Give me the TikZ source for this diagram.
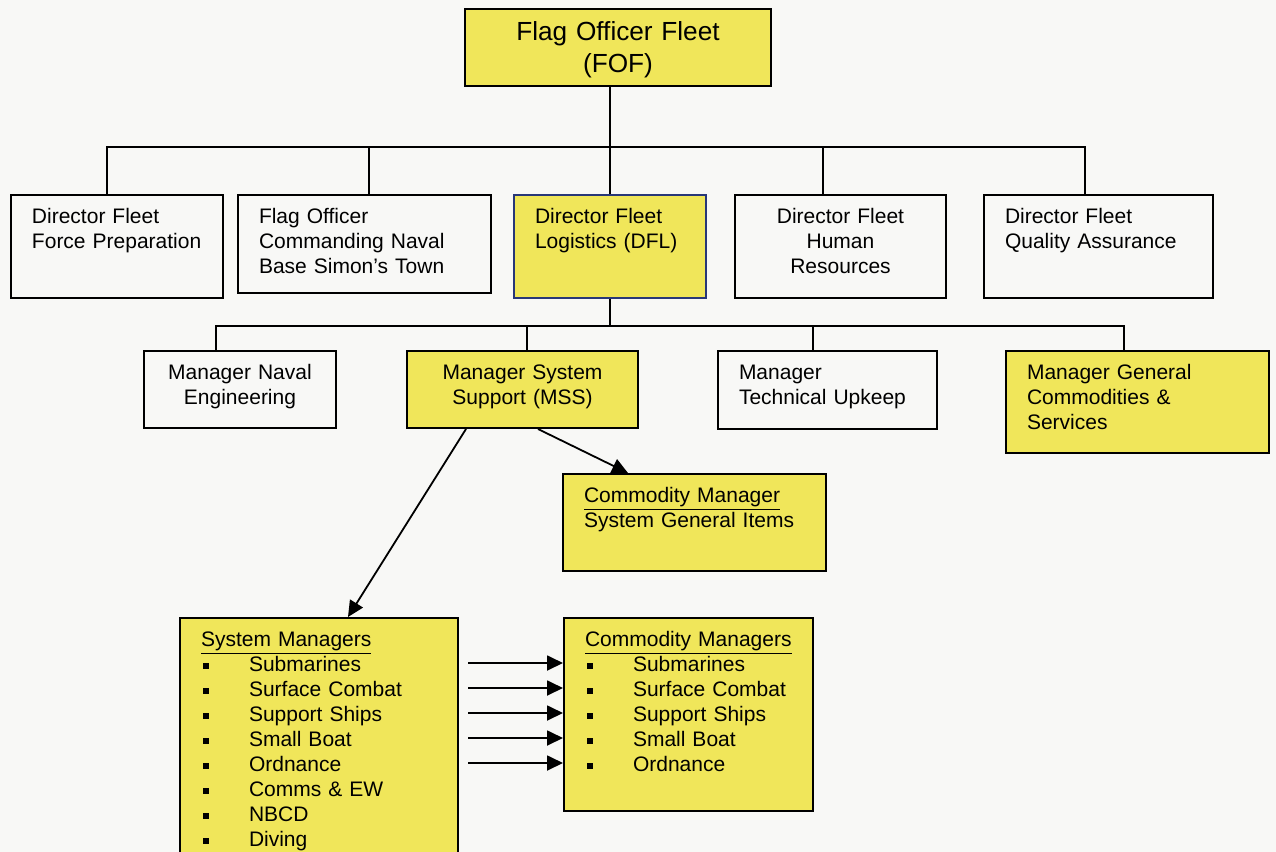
\documentclass[tikz,border=0pt]{standalone}
\usepackage{fontspec}
\setmainfont{Liberation Sans}
\usetikzlibrary{arrows.meta,calc}

\definecolor{boxyellow}{RGB}{240,230,90}
\definecolor{paper}{RGB}{248,248,246}
\definecolor{dflblue}{RGB}{40,55,120}

% square bullet of the lists
\newcommand{\sq}{\makebox[24pt][l]{\hspace{1pt}\rule[1.5pt]{2.8pt}{2.8pt}}}

\tikzset{
  unit/.style={draw, line width=1pt, anchor=north west, inner xsep=10.5pt, inner ysep=4pt,
    text height=10.25pt, align=left, font=\fontsize{10.5}{12.5}\selectfont},
  hilite/.style={unit, fill=boxyellow},
  link/.style={line width=0.9pt},
  arrow/.style={link, -{Triangle[length=8pt,width=7.5pt]}}
}

\begin{document}
\begin{tikzpicture}[x=0.5pt,y=-0.5pt]
    \useasboundingbox[fill=paper] (0,0) rectangle (1276,852);
    % top
    \node[hilite, text width=132pt, text height=11.9pt, text depth=18.6pt, align=center,
      font=\fontsize{13.1}{16}\selectfont] (fof) at (464,8) {Flag Officer Fleet\\(FOF)};
    % directors
    \node[unit, text width=85pt, text depth=33.25pt] (dffp) at (10,194) {Director Fleet\\Force Preparation};
    \node[unit, text width=105.5pt, text depth=30.75pt] (focnb) at (237,194) {Flag Officer\\Commanding Naval\\Base Simon’s Town};
    \node[hilite, draw=dflblue, text width=75pt, text depth=33.25pt] (dfl) at (513,194) {Director Fleet\\Logistics (DFL)};
    \node[unit, text width=84.5pt, text depth=33.25pt, align=center] (dfhr) at (734,194) {Director Fleet\\Human\\Resources};
    \node[unit, text width=93.5pt, text depth=33.25pt] (dfqa) at (983,194) {Director Fleet\\Quality Assurance};
    % managers
    \node[unit, text width=75pt, text depth=20.25pt, align=center] (mne) at (143,350) {Manager Naval\\Engineering};
    \node[hilite, text width=94.5pt, text depth=20.25pt, align=center] (mss) at (406,350) {Manager System\\Support (MSS)};
    \node[unit, text width=88.5pt, text depth=20.75pt] (mtu) at (717,350) {Manager\\Technical Upkeep};
    \node[hilite, text width=110.5pt, text depth=32.75pt] (mgcs) at (1005,350) {Manager General\\Commodities \&\\Services};
    % under MSS
    \node[hilite, text width=110.5pt, text depth=30.25pt] (cmsgi) at (562,473) {\underline{Commodity Manager}\\System General Items};
    \node[hilite, text width=118pt, text depth=111.75pt] (sm) at (179,617) {\underline{System Managers}\\
      \sq Submarines\\\sq Surface Combat\\\sq Support Ships\\\sq Small Boat\\
      \sq Ordnance\\\sq Comms \& EW\\\sq NBCD\\\sq Diving};
    \node[hilite, text width=103.5pt, text depth=78.25pt] (cms) at (563,617) {\underline{Commodity Managers}\\
      \sq Submarines\\\sq Surface Combat\\\sq Support Ships\\\sq Small Boat\\\sq Ordnance};
    % lines to the directors
    \coordinate (top-l) at (107,147);
    \coordinate (top-r) at (1085,147);
    \coordinate (drop2) at (369,147);
    \coordinate (drop4) at (823,147);
    \draw[link] (fof.south -| dfl.north) -- (dfl.north);
    \draw[link] (top-l |- dffp.north) -- (top-l) -- (top-r) -- (top-r |- dfqa.north);
    \draw[link] (drop2) -- (drop2 |- focnb.north);
    \draw[link] (drop4) -- (drop4 |- dfhr.north);
    % lines to the managers
    \coordinate (mid-l) at (216,326);
    \coordinate (mid-r) at (1124,326);
    \coordinate (drop-mss) at (527,326);
    \coordinate (drop-mtu) at (813,326);
    \draw[link] (dfl.south) -- (dfl.south |- mid-l);
    \draw[link] (mid-l |- mne.north) -- (mid-l) -- (mid-r) -- (mid-r |- mgcs.north);
    \draw[link] (drop-mss) -- (drop-mss |- mss.north);
    \draw[link] (drop-mtu) -- (drop-mtu |- mtu.north);
    % arrows from MSS
    \draw[arrow] ($(mss.south west)+(60,0)$) -- ($(sm.north west)+(169,0)$);
    \draw[arrow] ($(mss.south west)+(132,0)$) -- ($(cmsgi.north west)+(66,0)$);
    \foreach \dy in {46,71,96,121,146}
      \draw[arrow] ($(sm.north east)+(9,\dy)$) -- ($(cms.north west)+(0,\dy)$);
\end{tikzpicture}
\end{document}
